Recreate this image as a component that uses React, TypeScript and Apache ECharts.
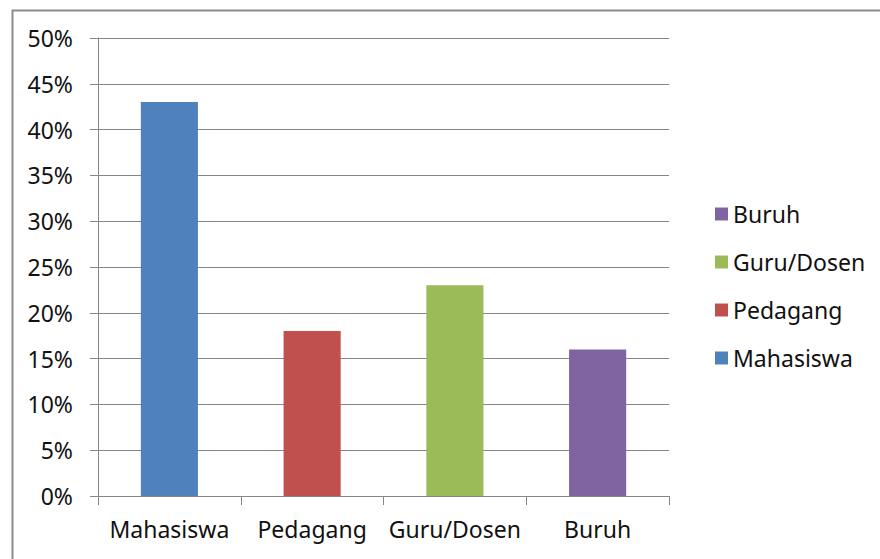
import React, { useEffect, useRef } from "react";
import * as echarts from "echarts";

const categories = ["Mahasiswa", "Pedagang", "Guru/Dosen", "Buruh"];
const values = [43, 18, 23, 16];
const colors = ["#4F81BD", "#C0504D", "#9BBB59", "#8064A2"];
const yTicks = [0, 5, 10, 15, 20, 25, 30, 35, 40, 45, 50];
const legendOrder = ["Buruh", "Guru/Dosen", "Pedagang", "Mahasiswa"];

export default function App() {
  const ref = useRef<HTMLDivElement>(null);

  useEffect(() => {
    if (!ref.current) return;
    const chart = echarts.init(ref.current, null, { renderer: "svg" });
    const font = "'Noto Sans', 'DejaVu Sans', sans-serif";
    const axisGray = "#868686";
    const textColor = "#111111";

    // one series per category, stacked so every bar stays centred in its slot
    const series = categories.map((name, i) => ({
      name,
      type: "bar",
      stack: "all",
      barWidth: "40%",
      itemStyle: { color: colors[i] },
      data: categories.map((_, j) => (j === i ? values[i] : "-")),
    }));

    chart.setOption({
      animation: false,
      backgroundColor: "#ffffff",
      textStyle: { fontFamily: font },
      grid: { left: 98, right: 211, top: 38, bottom: 63 },
      legend: {
        orient: "vertical",
        left: 710,
        top: 193,
        itemWidth: 13,
        itemHeight: 13,
        itemGap: 16,
        icon: "rect",
        data: legendOrder,
        textStyle: { fontSize: 23, lineHeight: 32, color: textColor, fontFamily: font },
      },
      xAxis: {
        type: "category",
        data: categories,
        axisLine: { lineStyle: { color: axisGray, width: 1 } },
        axisTick: { show: true, length: 9, alignWithLabel: false, lineStyle: { color: axisGray } },
        axisLabel: { fontSize: 23, color: textColor, margin: 21, interval: 0, fontFamily: font },
      },
      yAxis: {
        type: "value",
        min: yTicks[0],
        max: yTicks[yTicks.length - 1],
        interval: 5,
        axisLine: { show: true, lineStyle: { color: axisGray, width: 1 } },
        axisTick: { show: true, length: 8, lineStyle: { color: axisGray } },
        axisLabel: {
          fontSize: 23,
          color: textColor,
          margin: 25,
          fontFamily: font,
          formatter: (v: number) => `${v}%`,
        },
        splitLine: { show: true, lineStyle: { color: axisGray, width: 1 } },
      },
      graphic: [
        {
          type: "rect",
          left: 10,
          top: 8,
          shape: { width: 900, height: 600 },
          style: { fill: "none", stroke: "#8c8c8c", lineWidth: 2 },
          silent: true,
        },
      ],
      series,
    });

    return () => chart.dispose();
  }, []);

  return (
    <div
      ref={ref}
      style={{ position: "absolute", left: 0, top: 0, width: 880, height: 559 }}
    />
  );
}
